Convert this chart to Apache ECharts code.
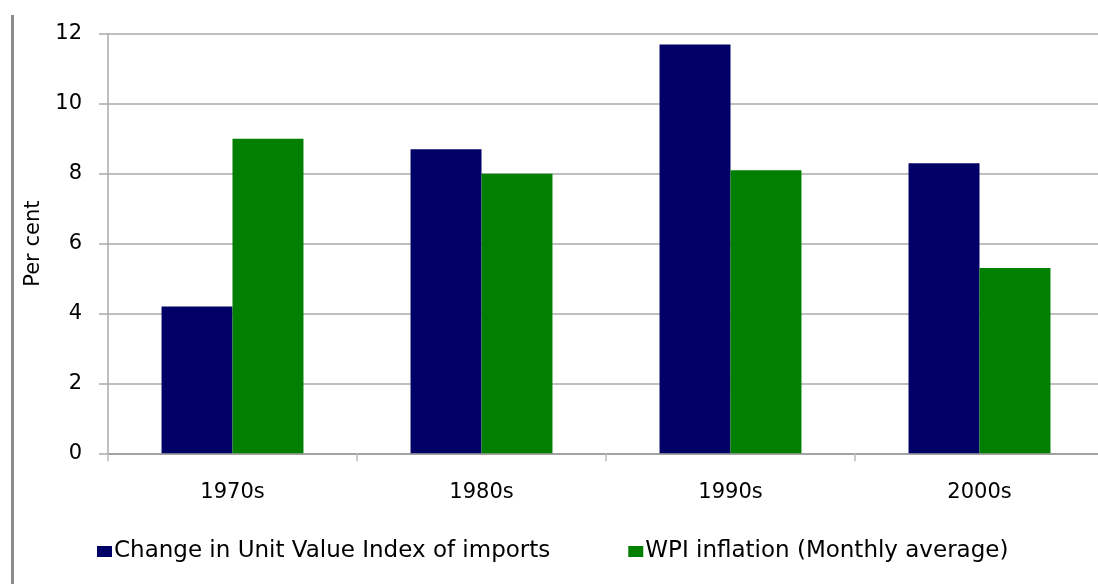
<!DOCTYPE html>
<html>
<head>
<meta charset="utf-8">
<script src="https://cdn.jsdelivr.net/npm/echarts@6/dist/echarts.min.js"></script>
<style>html,body{margin:0;padding:0;background:#fff;overflow:hidden}#c{width:1112px;height:584px}</style>
</head>
<body>
<div id="c"></div>
<script>
const categories = ['1970s', '1980s', '1990s', '2000s'];
const seriesNames = ['Change in Unit Value Index of imports', 'WPI inflation (Monthly average)'];
const unitValueIndex = [4.2, 8.7, 11.7, 8.3];
const wpiInflation = [9.0, 8.0, 8.1, 5.3];
const yTicks = [0, 2, 4, 6, 8, 10, 12];
const yAxisTitle = 'Per cent';

const chart = echarts.init(document.getElementById('c'), null, {renderer: 'canvas'});
const font = 'DejaVu Sans, Liberation Sans, sans-serif';
chart.setOption({
  animation: false,
  backgroundColor: '#fff',
  textStyle: {fontFamily: font},
  graphic: [{
    type: 'rect', shape: {x: 11, y: 15, width: 3, height: 580},
    style: {fill: '#8c8c8c'}, silent: true
  }],
  grid: {left: 108, top: 34, width: 996, height: 419.3, containLabel: false},
  legend: {
    left: 92, top: 535, itemWidth: 15, itemHeight: 11, itemGap: 78,
    icon: 'rect',
    textStyle: {fontSize: 23, color: '#000', fontFamily: font, padding: [0, 0, 0, -3]},
    data: seriesNames
  },
  xAxis: {
    type: 'category', data: categories,
    axisLine: {lineStyle: {color: '#999', width: 1.5}},
    axisTick: {show: true, length: 8, lineStyle: {color: '#bbb', width: 1.5}},
    axisLabel: {fontSize: 21, color: '#000', margin: 29, fontFamily: font},
    splitLine: {show: false}
  },
  yAxis: {
    type: 'value', min: 0, max: 12, interval: 2,
    name: yAxisTitle, nameLocation: 'middle', nameGap: 64, nameRotate: 90,
    nameTextStyle: {fontSize: 21, color: '#000', fontFamily: font},
    axisLine: {show: true, lineStyle: {color: '#aaa', width: 1.5}},
    axisTick: {show: true, length: 9, lineStyle: {color: '#aaa', width: 1.5}},
    axisLabel: {fontSize: 21, color: '#000', margin: 26, fontFamily: font,
      formatter: v => yTicks.includes(v) ? String(v) : ''},
    splitLine: {lineStyle: {color: '#aaa', width: 1.5}}
  },
  series: [
    {name: seriesNames[0], type: 'bar', data: unitValueIndex,
     itemStyle: {color: '#000066'}, barGap: '0%', barCategoryGap: '43%'},
    {name: seriesNames[1], type: 'bar', data: wpiInflation,
     itemStyle: {color: '#007f00'}, barGap: '0%', barCategoryGap: '43%'}
  ]
});
</script>
</body>
</html>
